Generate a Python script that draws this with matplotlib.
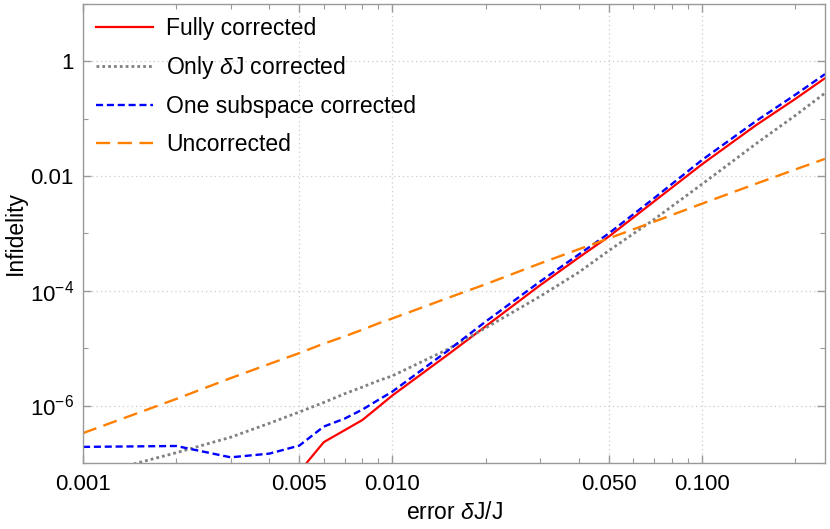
import numpy as np
import matplotlib
matplotlib.use('Agg')
import matplotlib.pyplot as plt
from matplotlib.ticker import FixedLocator, NullFormatter

plt.rcParams['font.family'] = ['Liberation Sans', 'DejaVu Sans']
plt.rcParams['mathtext.fontset'] = 'custom'
plt.rcParams['mathtext.rm'] = 'Liberation Sans'
plt.rcParams['mathtext.it'] = 'Liberation Sans:italic'
plt.rcParams['font.size'] = 16.5

# %% data (error dJ/J vs infidelity)
err = [0.001, 0.002, 0.003, 0.004, 0.005, 0.006, 0.007, 0.008, 0.009, 0.010,
       0.015, 0.02, 0.03, 0.04, 0.05, 0.07, 0.10, 0.15, 0.20, 0.25]
fully_corrected = [np.nan, np.nan, np.nan, np.nan, 7e-8, 2.3e-7, 3.7e-7, 5.6e-7, 9.4e-7, 1.5e-6,
                   7.5e-6, 2.4e-5, 1.25e-4, 3.8e-4, 8.8e-4, 3.6e-3, 0.016, 0.078, 0.22, 0.51]
only_dJ_corrected = [5.6e-8, 1.5e-7, 2.8e-7, 4.9e-7, 7.7e-7, 1.13e-6, 1.6e-6, 2.1e-6, 2.7e-6, 3.3e-6,
                     9.4e-6, 2.25e-5, 8.0e-5, 2.1e-4, 5.0e-4, 1.75e-3, 7.2e-3, 0.037, 0.113, 0.28]
one_subspace_corrected = [1.9e-7, 1.97e-7, 1.25e-7, 1.45e-7, 2.0e-7, 4.3e-7, 5.9e-7, 8.5e-7, 1.25e-6, 1.75e-6,
                          8.8e-6, 2.9e-5, 1.45e-4, 4.3e-4, 1.0e-3, 4.1e-3, 0.019, 0.092, 0.26, 0.60]
uncorrected = [3.3e-7, 1.3e-6, 3.0e-6, 5.3e-6, 8.2e-6, 1.2e-5, 1.6e-5, 2.1e-5, 2.7e-5, 3.3e-5,
               7.4e-5, 1.3e-4, 3.0e-4, 5.3e-4, 8.2e-4, 1.6e-3, 3.3e-3, 7.4e-3, 0.013, 0.020]

x_major = [0.001, 0.005, 0.01, 0.05, 0.1]
x_major_labels = ['0.001', '0.005', '0.010', '0.050', '0.100']
x_minor = [0.002, 0.003, 0.004, 0.006, 0.007, 0.008, 0.009,
           0.02, 0.03, 0.04, 0.06, 0.07, 0.08, 0.09, 0.2]
y_major = [1e-6, 1e-4, 1e-2, 1]
y_major_labels = [r'$10^{-6}$', r'$10^{-4}$', '0.01', '1']
y_minor = [1e-7, 1e-5, 1e-3, 1e-1, 10]

# %% plot
fig = plt.figure(figsize=(8.3, 5.29), dpi=100)
ax = fig.add_axes([0.1, 0.125, 0.894, 0.8674])

ax.plot(err, fully_corrected, color=(1, 0, 0), lw=1.6, label='Fully corrected')
ax.plot(err, only_dJ_corrected, color=(0.5, 0.5, 0.5), lw=2.0, ls=(0, (1, 1.1)),
        label=r'Only $\delta$J corrected')
ax.plot(err, one_subspace_corrected, color=(0, 0, 1), lw=1.7, ls=(0, (3, 1.6)),
        label='One subspace corrected')
ax.plot(err, uncorrected, color=(1, 0.5, 0), lw=1.7, ls=(0, (6, 3.2)),
        label='Uncorrected')

ax.set_xscale('log')
ax.set_yscale('log')
ax.set_xlim(0.001, 0.25)
ax.set_ylim(1e-7, 10)

ax.xaxis.set_major_locator(FixedLocator(x_major))
ax.set_xticklabels(x_major_labels)
ax.xaxis.set_minor_locator(FixedLocator(x_minor))
ax.xaxis.set_minor_formatter(NullFormatter())
ax.yaxis.set_major_locator(FixedLocator(y_major))
ax.set_yticklabels(y_major_labels)
ax.yaxis.set_minor_locator(FixedLocator(y_minor))
ax.yaxis.set_minor_formatter(NullFormatter())

ax.grid(which='major', color='#cccccc', ls=(0, (1, 2.5)), lw=0.9)
ax.tick_params(which='both', direction='in', top=True, right=True, color='#999999',
               labelcolor='black', labelsize=16)
ax.tick_params(which='major', length=6, width=1)
ax.tick_params(which='minor', length=3.5, width=0.8)
ax.tick_params(axis='x', which='major', pad=8)
ax.tick_params(axis='y', which='major', pad=6.5)
for sp in ax.spines.values():
    sp.set_color('#999999')
    sp.set_linewidth(1)

ax.set_xlabel(r'error $\delta$J/J', labelpad=4)
ax.set_ylabel('Infidelity', labelpad=2)

ax.legend(loc='upper left', frameon=False, handlelength=2.5, handletextpad=0.57,
          labelspacing=0.63, borderaxespad=0.25, borderpad=0.3)

plt.savefig('out.png', dpi=100)
